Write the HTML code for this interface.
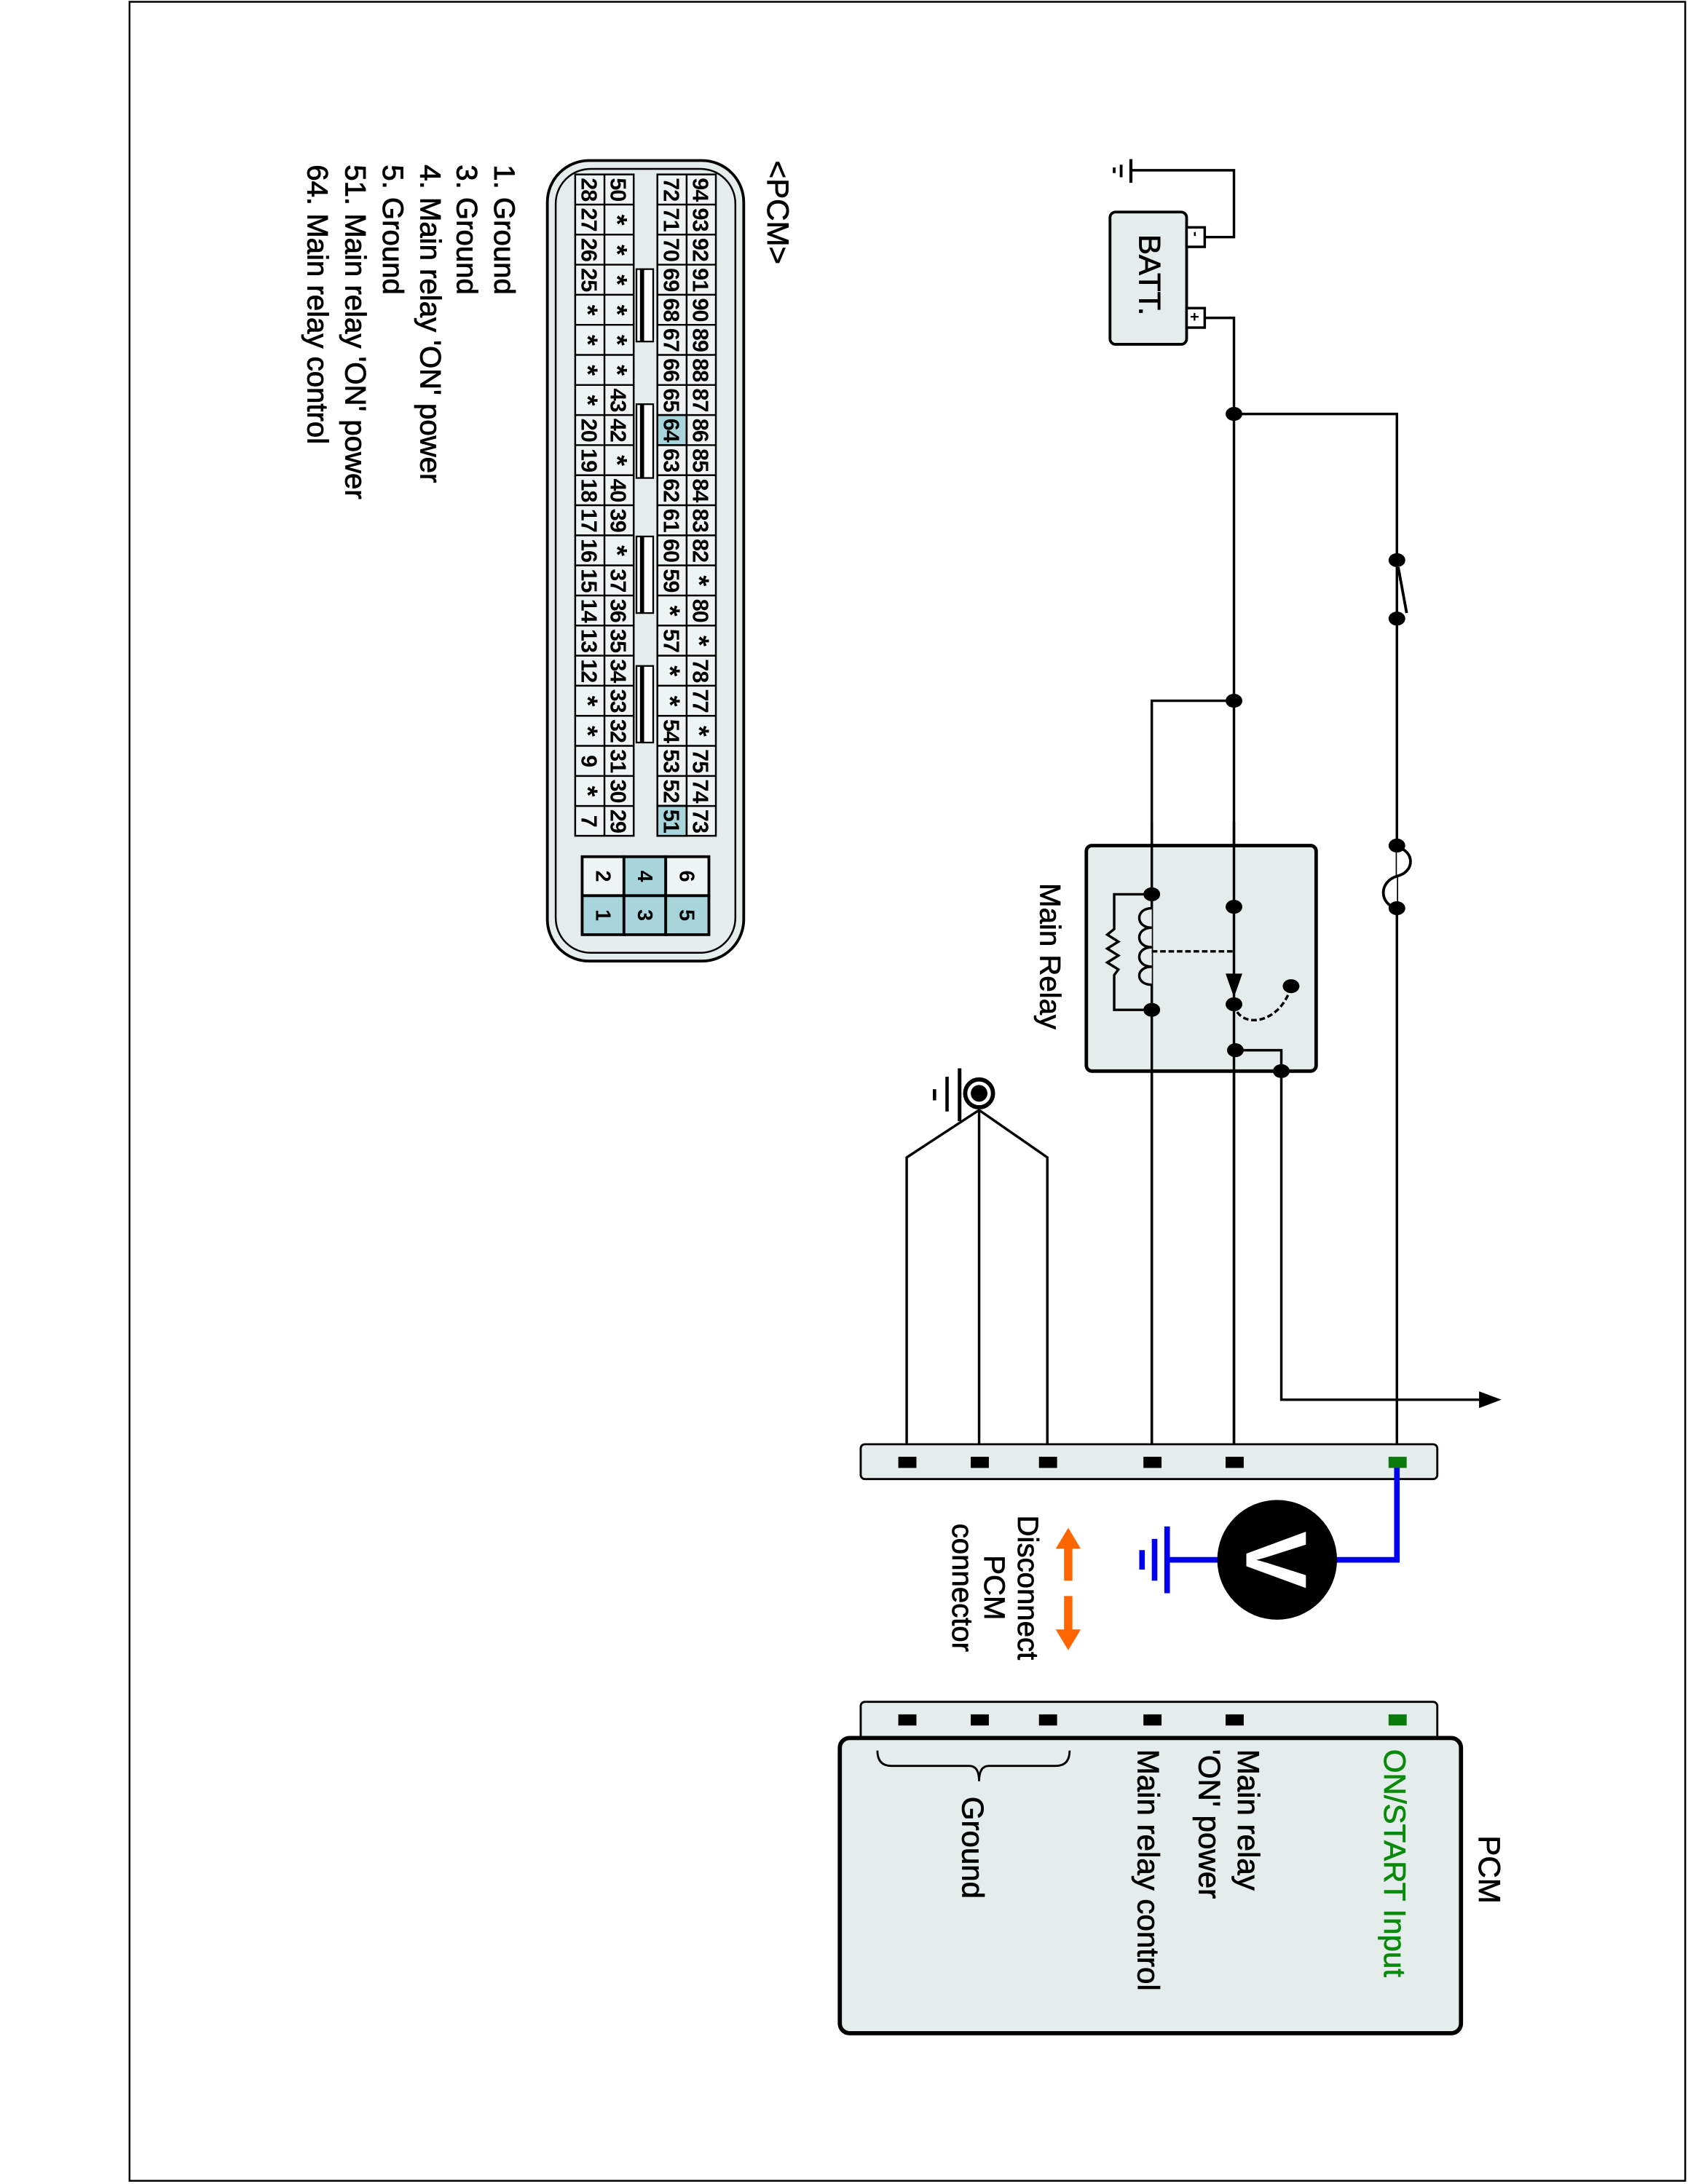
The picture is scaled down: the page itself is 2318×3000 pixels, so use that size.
<!DOCTYPE html>
<html><head><meta charset="utf-8"><style>html,body{margin:0;padding:0;background:#fff}svg{display:block}</style></head>
<body>
<svg width="2318" height="3000" viewBox="0 0 1212 1568" xmlns="http://www.w3.org/2000/svg" font-family="Liberation Sans, Arial, sans-serif">
<rect x="93" y="1" width="1117" height="1565" fill="none" stroke="#000" stroke-width="1.3"/>

<!-- Battery -->
<g stroke="#000" fill="none" stroke-width="1.8">
<rect x="797" y="152" width="55" height="95" rx="4" fill="#e4ecec" stroke-width="2"/>
<rect x="852" y="163" width="13" height="14" fill="#fff"/>
<rect x="852" y="221" width="13" height="14" fill="#fff"/>
<path d="M865,170 H886 V122 H812"/>
<path d="M812,114 V131" stroke-width="2.2"/>
<path d="M805,118 V127" stroke-width="2"/>
<path d="M800,120 V124" stroke-width="2"/>
<path d="M865,228 H886 V1050"/>
<path d="M886,297 H1003 V1050"/>
<path d="M1003,402 L1010,440" stroke-width="2"/>
<path d="M1003,608 C1016,611 1016,626 1003,629 C990,633 990,649 1003,652" stroke-width="2" fill="#fff"/>
<path d="M886,503 H827 V1050"/>
</g>
<g stroke="#000" stroke-width="0.4">
<text transform="translate(818,168) rotate(90)" font-size="22">BATT.</text>
</g>
<g font-size="11" font-weight="bold">
<text transform="translate(855,166) rotate(90)">-</text>
<text transform="translate(854,224) rotate(90)">+</text>
</g>
<rect x="1000" y="400" width="7" height="7" fill="#fff"/>
<g fill="#000">
<ellipse cx="886" cy="297" rx="6" ry="5"/>
<ellipse cx="886" cy="503" rx="6" ry="5"/>
<ellipse cx="1003" cy="402" rx="6" ry="5"/>
<ellipse cx="1003" cy="444" rx="6" ry="5"/>
<ellipse cx="1003" cy="607" rx="6" ry="5"/>
<ellipse cx="1003" cy="652" rx="6" ry="5"/>
</g>

<!-- Main relay -->
<rect x="780" y="607" width="165" height="162" rx="4" fill="#e4ecec" stroke="#000" stroke-width="2.5"/>
<g stroke="#000" fill="none" stroke-width="1.8">
<path d="M827,590 V1050"/>
<path d="M886,590 V1050"/>
<path d="M827,642 H800 V667 L795,671 L803,676 L795,681 L803,686 L795,691 L803,696 L800,700 V725 H827"/>
<path d="M827,652 C815,652 815,666 827,666 C815,666 815,680 827,680 C815,680 815,694 827,694 C815,694 815,707 827,707" fill="#e4ecec"/>
<path d="M827,683 H886" stroke-dasharray="4,2"/>
<path d="M886,721 C890,740 920,735 927,708" stroke-dasharray="4,2"/>
<path d="M886,754 H920 V1005 H1066"/>
</g>
<polygon points="880,699 892,699 886,716" fill="#000"/>
<polygon points="1062,999 1078,1005 1062,1011" fill="#000"/>
<g fill="#000">
<ellipse cx="827" cy="642" rx="6" ry="5"/>
<ellipse cx="827" cy="725" rx="6" ry="5"/>
<ellipse cx="886" cy="651" rx="6" ry="5"/>
<ellipse cx="886" cy="721" rx="6" ry="5"/>
<ellipse cx="927" cy="708" rx="6" ry="5"/>
<ellipse cx="887" cy="754" rx="6" ry="5"/>
<ellipse cx="920" cy="769" rx="6" ry="5"/>
</g>
<g stroke="#000" stroke-width="0.4">
<text transform="translate(747,634) rotate(90)" font-size="21">Main Relay</text>
</g>

<!-- ground -->
<g stroke="#000" fill="none" stroke-width="1.8">
<path d="M651,1050 V831 L703,797 L752,831 V1050"/>
<path d="M703,797 V1050"/>
<circle cx="703" cy="785" r="10" stroke-width="3" fill="#fff"/>
<path d="M689,767 V805" stroke-width="2.6"/>
<path d="M680,773 V798" stroke-width="2.4"/>
<path d="M671,782 V790" stroke-width="2.4"/>
</g>
<circle cx="703" cy="785" r="6" fill="#000"/>

<!-- Connector strip 1 -->
<rect x="618" y="1037" width="414" height="25" rx="3" fill="#e4ecec" stroke="#000" stroke-width="1.5"/>
<g fill="#000">
<rect x="645" y="1046" width="13" height="8"/>
<rect x="697" y="1046" width="13" height="8"/>
<rect x="746" y="1046" width="13" height="8"/>
<rect x="821" y="1046" width="13" height="8"/>
<rect x="880" y="1046" width="13" height="8"/>
</g>
<path d="M1003,1053 V1120 H838" stroke="#0000ee" stroke-width="4" fill="none"/>
<rect x="997" y="1046" width="13" height="8" fill="#0a7a0a"/>
<g stroke="#0000ee" stroke-width="4">
<path d="M838,1096 V1144"/>
<path d="M829,1105 V1135"/>
<path d="M820,1113 V1127"/>
</g>
<circle cx="917" cy="1120" r="43" fill="#000"/>
<text transform="translate(917,1120) rotate(90)" text-anchor="middle" y="22" font-size="62" font-weight="bold" fill="#fff">V</text>

<!-- orange arrows -->
<g fill="#ff6600">
<polygon points="767,1097 776,1112 758,1112"/>
<rect x="764" y="1110" width="6" height="25"/>
<rect x="764" y="1146" width="6" height="25"/>
<polygon points="767,1185 776,1170 758,1170"/>
</g>
<g font-size="21" text-anchor="middle" stroke="#000" stroke-width="0.4">
<text transform="translate(731,1140) rotate(90)">Disconnect</text>
<text transform="translate(707,1140) rotate(90)">PCM</text>
<text transform="translate(684,1140) rotate(90)">connector</text>
</g>

<!-- PCM -->
<rect x="618" y="1222" width="414" height="35" rx="3" fill="#e4ecec" stroke="#000" stroke-width="1.5"/>
<g fill="#000">
<rect x="645" y="1231" width="13" height="8"/>
<rect x="697" y="1231" width="13" height="8"/>
<rect x="746" y="1231" width="13" height="8"/>
<rect x="821" y="1231" width="13" height="8"/>
<rect x="880" y="1231" width="13" height="8"/>
</g>
<rect x="997" y="1231" width="13" height="8" fill="#0a7a0a"/>
<rect x="603" y="1248" width="446" height="212" rx="7" fill="#e4ecec" stroke="#000" stroke-width="3"/>
<path d="M768,1257 Q768,1268 758,1268 L710,1268 Q703,1268 703,1279 Q703,1268 696,1268 L640,1268 Q630,1268 630,1257" fill="none" stroke="#000" stroke-width="1.5"/>
<g font-size="22" stroke="#000" stroke-width="0.4">
<text transform="translate(1062,1318) rotate(90)">PCM</text>
<text transform="translate(994,1256) rotate(90)" fill="#0a8a0a" stroke="#0a8a0a">ON/START Input</text>
<text transform="translate(889,1256) rotate(90)">Main relay</text>
<text transform="translate(861,1256) rotate(90)">'ON' power</text>
<text transform="translate(817,1256) rotate(90)">Main relay control</text>
<text transform="translate(691,1290) rotate(90)">Ground</text>
</g>

<!-- PCM connector view -->
<text transform="translate(551,115) rotate(90)" font-size="22" stroke="#000" stroke-width="0.4">&lt;PCM&gt;</text>
<rect x="393" y="115" width="141" height="575" rx="30" fill="#e4ecec" stroke="#000" stroke-width="2"/>
<rect x="399" y="121" width="129" height="563" rx="25" fill="none" stroke="#000" stroke-width="1.3"/>
<g stroke="#000" stroke-width="1.3">
<rect x="413" y="125" width="42" height="475" fill="#eef3f3"/>
<rect x="472" y="125" width="42" height="475" fill="#eef3f3"/>
<rect x="472" y="297.8" width="21" height="21.6" fill="#a8d4dc"/>
<rect x="472" y="578.4" width="21" height="21.6" fill="#a8d4dc"/>
<path d="M434,125 V600 M493,125 V600" fill="none"/>
<path fill="none" d="M413,146.6H455M413,168.2H455M413,189.8H455M413,211.4H455M413,233H455M413,254.6H455M413,276.2H455M413,297.8H455M413,319.4H455M413,341H455M413,362.6H455M413,384.2H455M413,405.8H455M413,427.4H455M413,449H455M413,470.6H455M413,492.2H455M413,513.8H455M413,535.4H455M413,557H455M413,578.6H455"/>
<path fill="none" d="M472,146.6H514M472,168.2H514M472,189.8H514M472,211.4H514M472,233H514M472,254.6H514M472,276.2H514M472,297.8H514M472,319.4H514M472,341H514M472,362.6H514M472,384.2H514M472,405.8H514M472,427.4H514M472,449H514M472,470.6H514M472,492.2H514M472,513.8H514M472,535.4H514M472,557H514M472,578.6H514"/>
</g>
<g stroke="#000" stroke-width="1.2" fill="#fff">
<rect x="457" y="193" width="12" height="52"/>
<rect x="457" y="290" width="12" height="53"/>
<rect x="457" y="385" width="12" height="55"/>
<rect x="457" y="478" width="12" height="55"/>
</g>
<g stroke="#000" stroke-width="3">
<path d="M461,193V245M461,290V343M461,385V440M461,478V533"/>
</g>
<g font-size="16" font-weight="bold" text-anchor="middle" letter-spacing="-0.5">
<g transform="translate(503.5,0)">
<text transform="translate(0,135.8) rotate(90)" y="6">94</text><text transform="translate(0,157.4) rotate(90)" y="6">93</text><text transform="translate(0,179) rotate(90)" y="6">92</text><text transform="translate(0,200.6) rotate(90)" y="6">91</text><text transform="translate(0,222.2) rotate(90)" y="6">90</text><text transform="translate(0,243.8) rotate(90)" y="6">89</text><text transform="translate(0,265.4) rotate(90)" y="6">88</text><text transform="translate(0,287) rotate(90)" y="6">87</text><text transform="translate(0,308.6) rotate(90)" y="6">86</text><text transform="translate(0,330.2) rotate(90)" y="6">85</text><text transform="translate(0,351.8) rotate(90)" y="6">84</text><text transform="translate(0,373.4) rotate(90)" y="6">83</text><text transform="translate(0,395) rotate(90)" y="6">82</text><text transform="translate(0,416.6) rotate(90)" y="8" font-size="20">*</text><text transform="translate(0,438.2) rotate(90)" y="6">80</text><text transform="translate(0,459.8) rotate(90)" y="8" font-size="20">*</text><text transform="translate(0,481.4) rotate(90)" y="6">78</text><text transform="translate(0,503) rotate(90)" y="6">77</text><text transform="translate(0,524.6) rotate(90)" y="8" font-size="20">*</text><text transform="translate(0,546.2) rotate(90)" y="6">75</text><text transform="translate(0,567.8) rotate(90)" y="6">74</text><text transform="translate(0,589.4) rotate(90)" y="6">73</text>
</g>
<g transform="translate(482.5,0)">
<text transform="translate(0,135.8) rotate(90)" y="6">72</text><text transform="translate(0,157.4) rotate(90)" y="6">71</text><text transform="translate(0,179) rotate(90)" y="6">70</text><text transform="translate(0,200.6) rotate(90)" y="6">69</text><text transform="translate(0,222.2) rotate(90)" y="6">68</text><text transform="translate(0,243.8) rotate(90)" y="6">67</text><text transform="translate(0,265.4) rotate(90)" y="6">66</text><text transform="translate(0,287) rotate(90)" y="6">65</text><text transform="translate(0,308.6) rotate(90)" y="6">64</text><text transform="translate(0,330.2) rotate(90)" y="6">63</text><text transform="translate(0,351.8) rotate(90)" y="6">62</text><text transform="translate(0,373.4) rotate(90)" y="6">61</text><text transform="translate(0,395) rotate(90)" y="6">60</text><text transform="translate(0,416.6) rotate(90)" y="6">59</text><text transform="translate(0,438.2) rotate(90)" y="8" font-size="20">*</text><text transform="translate(0,459.8) rotate(90)" y="6">57</text><text transform="translate(0,481.4) rotate(90)" y="8" font-size="20">*</text><text transform="translate(0,503) rotate(90)" y="8" font-size="20">*</text><text transform="translate(0,524.6) rotate(90)" y="6">54</text><text transform="translate(0,546.2) rotate(90)" y="6">53</text><text transform="translate(0,567.8) rotate(90)" y="6">52</text><text transform="translate(0,589.4) rotate(90)" y="6">51</text>
</g>
<g transform="translate(444.5,0)">
<text transform="translate(0,135.8) rotate(90)" y="6">50</text><text transform="translate(0,157.4) rotate(90)" y="8" font-size="20">*</text><text transform="translate(0,179) rotate(90)" y="8" font-size="20">*</text><text transform="translate(0,200.6) rotate(90)" y="8" font-size="20">*</text><text transform="translate(0,222.2) rotate(90)" y="8" font-size="20">*</text><text transform="translate(0,243.8) rotate(90)" y="8" font-size="20">*</text><text transform="translate(0,265.4) rotate(90)" y="8" font-size="20">*</text><text transform="translate(0,287) rotate(90)" y="6">43</text><text transform="translate(0,308.6) rotate(90)" y="6">42</text><text transform="translate(0,330.2) rotate(90)" y="8" font-size="20">*</text><text transform="translate(0,351.8) rotate(90)" y="6">40</text><text transform="translate(0,373.4) rotate(90)" y="6">39</text><text transform="translate(0,395) rotate(90)" y="8" font-size="20">*</text><text transform="translate(0,416.6) rotate(90)" y="6">37</text><text transform="translate(0,438.2) rotate(90)" y="6">36</text><text transform="translate(0,459.8) rotate(90)" y="6">35</text><text transform="translate(0,481.4) rotate(90)" y="6">34</text><text transform="translate(0,503) rotate(90)" y="6">33</text><text transform="translate(0,524.6) rotate(90)" y="6">32</text><text transform="translate(0,546.2) rotate(90)" y="6">31</text><text transform="translate(0,567.8) rotate(90)" y="6">30</text><text transform="translate(0,589.4) rotate(90)" y="6">29</text>
</g>
<g transform="translate(423.5,0)">
<text transform="translate(0,135.8) rotate(90)" y="6">28</text><text transform="translate(0,157.4) rotate(90)" y="6">27</text><text transform="translate(0,179) rotate(90)" y="6">26</text><text transform="translate(0,200.6) rotate(90)" y="6">25</text><text transform="translate(0,222.2) rotate(90)" y="8" font-size="20">*</text><text transform="translate(0,243.8) rotate(90)" y="8" font-size="20">*</text><text transform="translate(0,265.4) rotate(90)" y="8" font-size="20">*</text><text transform="translate(0,287) rotate(90)" y="8" font-size="20">*</text><text transform="translate(0,308.6) rotate(90)" y="6">20</text><text transform="translate(0,330.2) rotate(90)" y="6">19</text><text transform="translate(0,351.8) rotate(90)" y="6">18</text><text transform="translate(0,373.4) rotate(90)" y="6">17</text><text transform="translate(0,395) rotate(90)" y="6">16</text><text transform="translate(0,416.6) rotate(90)" y="6">15</text><text transform="translate(0,438.2) rotate(90)" y="6">14</text><text transform="translate(0,459.8) rotate(90)" y="6">13</text><text transform="translate(0,481.4) rotate(90)" y="6">12</text><text transform="translate(0,503) rotate(90)" y="8" font-size="20">*</text><text transform="translate(0,524.6) rotate(90)" y="8" font-size="20">*</text><text transform="translate(0,546.2) rotate(90)" y="6">9</text><text transform="translate(0,567.8) rotate(90)" y="8" font-size="20">*</text><text transform="translate(0,589.4) rotate(90)" y="6">7</text>
</g>
</g>
<!-- small grid -->
<g stroke="#000" stroke-width="2">
<rect x="418" y="615" width="30" height="28" fill="#eef3f3"/>
<rect x="418" y="643" width="30" height="28" fill="#a8d4dc"/>
<rect x="448" y="615" width="30" height="28" fill="#a8d4dc"/>
<rect x="448" y="643" width="30" height="28" fill="#a8d4dc"/>
<rect x="478" y="615" width="31" height="28" fill="#eef3f3"/>
<rect x="478" y="643" width="31" height="28" fill="#a8d4dc"/>
</g>
<g font-size="15" font-weight="bold" text-anchor="middle">
<text transform="translate(433,629) rotate(90)" y="5">2</text>
<text transform="translate(433,657) rotate(90)" y="5">1</text>
<text transform="translate(463,629) rotate(90)" y="5">4</text>
<text transform="translate(463,657) rotate(90)" y="5">3</text>
<text transform="translate(493,629) rotate(90)" y="5">6</text>
<text transform="translate(493,657) rotate(90)" y="5">5</text>
</g>

<!-- legend -->
<g font-size="21" stroke="#000" stroke-width="0.45">
<text transform="translate(355,118) rotate(90)">1. Ground</text>
<text transform="translate(328,118) rotate(90)">3. Ground</text>
<text transform="translate(302,118) rotate(90)">4. Main relay 'ON' power</text>
<text transform="translate(275,118) rotate(90)">5. Ground</text>
<text transform="translate(248,118) rotate(90)">51. Main relay 'ON' power</text>
<text transform="translate(221,118) rotate(90)">64. Main relay control</text>
</g>
</svg>
</body></html>
